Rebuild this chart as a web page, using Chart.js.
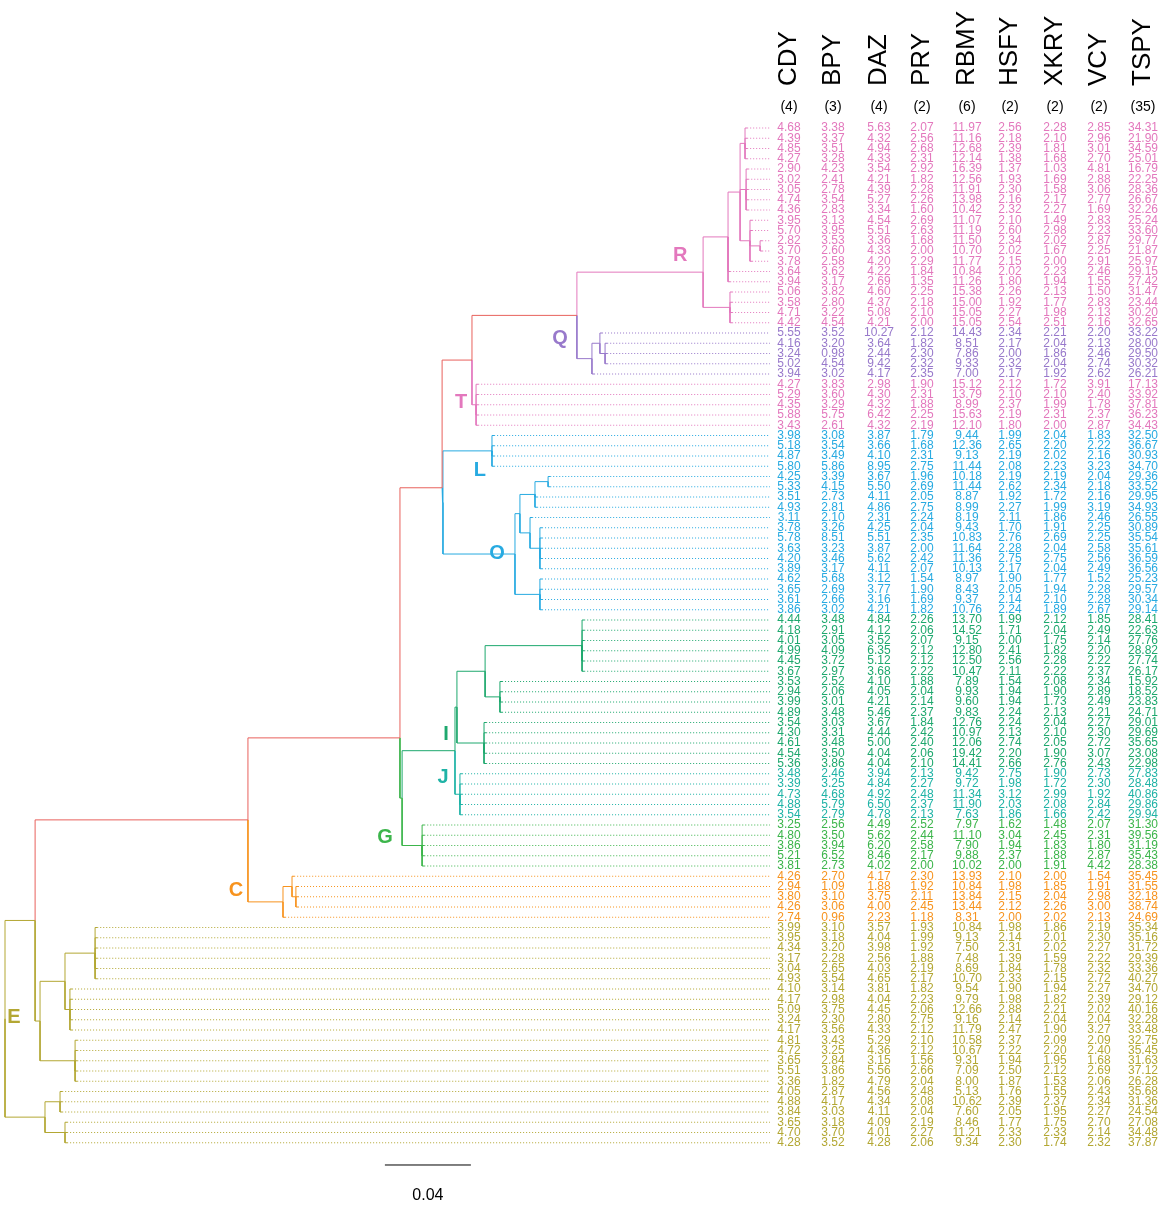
<!DOCTYPE html>
<html><head><meta charset="utf-8">
<script src="https://cdn.jsdelivr.net/npm/chart.js@4.4.0/dist/chart.umd.min.js"></script>
<style>html,body{margin:0;padding:0;background:#fff}#wrap{position:relative;width:1163px;height:1208px}</style>
</head><body><div id="wrap"><canvas id="c" width="1163" height="1208"></canvas></div>
<script>
// ---------------- DATA ----------------
const genes = ['CDY','BPY','DAZ','PRY','RBMY','HSFY','XKRY','VCY','TSPY'];
const copyNumbers = ['(4)','(3)','(4)','(2)','(6)','(2)','(2)','(2)','(35)'];
const groupNames = ['R','Q','T','L','O','I','J','G','C','E'];
const groupSizes = [20,5,5,4,14,15,5,5,5,22];

const CDY = [4.68,4.39,4.85,4.27,2.90,3.02,3.05,4.74,4.36,3.95,5.70,2.82,3.70,3.78,3.64,3.94,5.06,3.58,4.71,4.42,
 5.55,4.16,3.24,5.02,3.94, 4.27,5.29,4.35,5.88,3.43, 3.98,5.18,4.87,5.80,
 4.25,5.33,3.51,4.93,3.11,3.78,5.78,3.63,4.20,3.89,4.62,3.65,3.61,3.86,
 4.44,4.18,4.01,4.99,4.45,3.67,3.53,2.94,3.99,4.89,3.54,4.30,4.61,4.54,5.36,
 3.48,3.39,4.73,4.88,3.54, 3.25,4.80,3.86,5.21,3.81, 4.26,2.94,3.80,4.26,2.74,
 3.99,3.95,4.34,3.17,3.04,4.93,4.10,4.17,5.09,3.24,4.17,4.81,4.72,3.65,5.51,3.36,4.05,4.88,3.84,3.65,4.70,4.28];
const BPY = [3.38,3.37,3.51,3.28,4.23,2.41,2.78,3.54,2.83,3.13,3.95,3.53,2.60,2.58,3.62,3.17,3.82,2.80,3.22,4.54,
 3.52,3.20,0.98,4.54,3.02, 3.83,3.60,3.29,5.75,2.61, 3.08,3.54,3.49,5.86,
 3.39,4.15,2.73,2.81,2.10,3.26,8.51,3.23,3.46,3.17,5.68,2.69,2.66,3.02,
 3.48,2.91,3.05,4.09,3.72,2.97,2.52,2.06,3.01,3.48,3.03,3.31,3.48,3.50,3.86,
 2.46,3.25,4.68,5.79,2.79, 2.56,3.50,3.94,6.52,2.73, 2.70,1.09,3.10,3.06,0.96,
 3.10,3.18,3.20,2.28,2.65,3.54,3.14,2.98,3.75,2.30,3.56,3.43,3.25,2.84,3.86,1.82,2.87,4.17,3.03,3.18,3.70,3.52];
const DAZ = [5.63,4.32,4.94,4.33,3.54,4.21,4.39,5.27,3.34,4.54,5.51,3.36,4.33,4.20,4.22,2.69,4.60,4.37,5.08,4.21,
 10.27,3.64,2.44,9.42,4.17, 2.98,4.30,4.32,6.42,4.32, 3.87,3.66,4.10,8.95,
 3.67,5.50,4.11,4.86,2.31,4.25,5.51,3.87,5.62,4.11,3.12,3.77,3.16,4.21,
 4.84,4.12,3.52,6.35,5.12,3.68,4.10,4.05,4.21,5.46,3.67,4.44,5.00,4.04,4.04,
 3.94,4.84,4.92,6.50,4.78, 4.49,5.62,6.20,8.46,4.02, 4.17,1.88,3.75,4.00,2.23,
 3.57,4.04,3.98,2.56,4.03,4.65,3.81,4.04,4.45,2.80,4.33,5.29,4.36,3.15,5.56,4.79,4.56,4.34,4.11,4.09,4.01,4.28];
const PRY = [2.07,2.56,2.68,2.31,2.92,1.82,2.28,2.26,1.60,2.69,2.63,1.68,2.00,2.29,1.84,1.35,2.25,2.18,2.10,2.00,
 2.12,1.82,2.30,2.32,2.35, 1.90,2.31,1.88,2.25,2.19, 1.79,1.68,2.31,2.75,
 1.96,2.69,2.05,2.75,2.24,2.04,2.35,2.00,2.42,2.07,1.54,1.90,1.69,1.82,
 2.26,2.06,2.07,2.12,2.12,2.22,1.88,2.04,2.14,2.37,1.84,2.42,2.40,2.06,2.10,
 2.13,2.27,2.48,2.37,2.13, 2.52,2.44,2.58,2.17,2.00, 2.30,1.92,2.11,2.45,1.18,
 1.93,1.99,1.92,1.88,2.19,2.17,1.82,2.23,2.06,2.75,2.12,2.10,2.12,1.56,2.66,2.04,2.48,2.08,2.04,2.19,2.27,2.06];
const RBMY = [11.97,11.16,12.68,12.14,16.39,12.56,11.91,13.98,10.42,11.07,11.19,11.50,10.70,11.77,10.84,11.26,15.38,15.00,15.05,15.05,
 14.43,8.51,7.86,9.33,7.00, 15.12,13.79,8.99,15.63,12.10, 9.44,12.36,9.13,11.44,
 10.18,11.44,8.87,8.99,8.19,9.43,10.83,11.64,11.36,10.13,8.97,8.43,9.37,10.76,
 13.70,14.52,9.15,12.80,12.50,10.47,7.89,9.93,9.60,9.83,12.76,10.97,12.06,19.42,14.41,
 9.42,9.72,11.34,11.90,7.63, 7.97,11.10,7.90,9.88,10.02, 13.93,10.84,13.84,13.44,8.31,
 10.84,9.13,7.50,7.48,8.69,10.70,9.54,9.79,12.66,9.16,11.79,10.58,10.67,9.31,7.09,8.00,5.13,10.62,7.60,8.46,11.21,9.34];
const HSFY = [2.56,2.18,2.39,1.38,1.37,1.93,2.30,2.16,2.32,2.10,2.60,2.34,2.02,2.15,2.02,1.80,2.26,1.92,2.27,2.54,
 2.34,2.17,2.00,2.32,2.17, 2.12,2.10,2.37,2.19,1.80, 1.99,2.65,2.19,2.08,
 2.19,2.62,1.92,2.27,2.11,1.70,2.76,2.28,2.75,2.17,1.90,2.05,2.14,2.24,
 1.99,1.71,2.00,2.41,2.56,2.11,1.54,1.94,1.94,2.24,2.24,2.13,2.74,2.20,2.66,
 2.75,1.98,3.12,2.03,1.86, 1.62,3.04,1.94,2.37,2.00, 2.10,1.98,2.15,2.12,2.00,
 1.98,2.14,2.31,1.39,1.84,2.33,1.90,1.98,2.88,2.14,2.47,2.37,2.22,1.94,2.50,1.87,1.76,2.39,2.05,1.77,2.33,2.30];
const XKRY = [2.28,2.10,1.81,1.68,1.03,1.69,1.58,2.17,2.27,1.49,2.98,2.02,1.67,2.00,2.23,1.94,2.13,1.77,1.98,2.51,
 2.21,2.04,1.86,2.04,1.92, 1.72,2.10,1.99,2.31,2.00, 2.04,2.20,2.02,2.23,
 2.19,2.34,1.72,1.99,1.86,1.91,2.69,2.04,2.75,2.04,1.77,1.94,2.10,1.89,
 2.12,2.04,1.75,1.82,2.28,2.22,2.08,1.90,1.73,2.13,2.04,2.10,2.05,1.90,2.76,
 1.90,1.72,2.99,2.08,1.66, 1.48,2.45,1.83,1.88,1.91, 2.00,1.85,2.04,2.26,2.02,
 1.86,2.01,2.02,1.59,1.78,2.15,1.94,1.82,2.21,2.04,1.90,2.09,2.20,1.95,2.12,1.53,1.55,2.37,1.95,1.75,2.33,1.74];
const VCY = [2.85,2.96,3.01,2.70,4.81,2.88,3.06,2.77,1.69,2.83,2.23,2.87,2.25,2.91,2.46,1.55,1.50,2.83,2.13,2.16,
 2.20,2.13,2.46,2.74,2.62, 3.91,2.40,1.78,2.37,2.87, 1.83,2.22,2.16,3.23,
 2.04,2.18,2.16,3.19,2.46,2.25,2.25,2.58,2.56,2.49,1.52,2.28,2.28,2.67,
 1.85,2.49,2.14,2.20,2.22,2.37,2.34,2.89,2.49,2.21,2.27,2.30,2.72,3.07,2.43,
 2.73,2.30,1.92,2.84,2.42, 2.07,2.31,1.80,2.87,4.42, 1.54,1.91,2.98,3.00,2.13,
 2.19,2.30,2.27,2.22,2.32,2.72,2.27,2.39,2.02,2.04,3.27,2.09,2.40,1.68,2.69,2.06,2.43,2.34,2.27,2.70,2.14,2.32];
const TSPY = [34.31,21.90,34.59,25.01,16.79,22.25,28.36,26.67,32.26,25.24,33.60,29.77,21.87,25.97,29.15,27.42,31.47,23.44,30.20,32.65,
 33.22,28.00,29.50,30.32,26.21, 17.13,33.92,37.81,36.23,34.43, 32.50,36.67,30.93,34.70,
 29.36,33.52,29.95,34.93,26.55,30.89,35.54,35.61,36.59,36.56,25.23,29.57,30.34,29.14,
 28.41,22.63,27.76,28.82,27.74,26.17,15.92,18.52,23.83,24.71,29.01,29.69,35.65,23.08,22.98,
 27.83,28.48,40.86,29.86,29.94, 31.30,39.56,31.19,35.43,28.38, 35.45,31.55,32.18,38.74,24.69,
 35.34,35.16,31.72,29.39,33.36,40.27,34.70,29.12,40.16,32.28,33.48,32.75,35.45,31.63,37.12,26.28,35.68,31.36,24.54,27.08,34.48,37.87];
const columns = [CDY,BPY,DAZ,PRY,RBMY,HSFY,XKRY,VCY,TSPY];

// tree: internal nodes (distance from root); kids: numbers = leaf rows, strings = nodes
const nodeIds  = ['root','N35','A','B','U','V','W','R','R1','R1a','R1b','R1c','R1d','R1e','R2',
  'Q','Qa','Qb','T','LO','L','O','Oa','Oa1','Oa1a','Oa2','Oa2a','Ob',
  'G','IJ','I','Ia','Ia1','Ia2','Ib','J','Gs','C','Cs','Cs2','E1','E1a','E1c','E1d','E1b','E2','E2a','E2b'];
const nodeDist = [0,0.0140,0.1130,0.1837,0.2033,0.2172,0.2660,0.3247,0.3363,0.3419,0.3442,0.3447,0.3465,0.3512,0.3372,
  0.2730,0.2767,0.2791,0.2191,0.2037,0.2265,0.2372,0.2395,0.2465,0.2526,0.2442,0.2488,0.2488,
  0.1847,0.2093,0.2102,0.2233,0.2684,0.2302,0.2228,0.2116,0.1940,0.1293,0.1335,0.1353,0.0163,0.0279,0.0419,0.0302,0.0326,0.0186,0.0256,0.0279];
const nodeKids = [['N35','E2'],['A','E1'],['B','C'],['U','G'],['V','LO'],['W','T'],['R','Q'],['R1','R2'],
  ['R1a',14,15],['R1b','R1c','R1d'],[0,1,2,3],[4,5,6,7,8],[9,10,'R1e',13],[11,12],[16,17,18,19],
  ['Qa',24],[20,'Qb'],[21,22,23],[25,26,27,28,29],['L','O'],[30,31,32,33],['Oa','Ob'],['Oa1','Oa2'],
  ['Oa1a',36,37],[34,35],[38,'Oa2a'],[39,40,41,42,43],[44,45,46,47],
  ['IJ','Gs'],['I','J'],['Ia','Ib'],['Ia1','Ia2'],[48,49,50,51,52,53],[54,55,56,57],[58,59,60,61,62],[63,64,65,66,67],
  [68,69,70,71,72],['Cs',77],[73,'Cs2'],[74,75,76],['E1a','E1b'],['E1c','E1d'],[78,79,80,81,82,83],[84,85,86,87,88],
  [89,90,91,92,93],['E2a','E2b'],[94,95,96],[97,98,99]];
const nodeGroup = ['E','E','bb','bb','bb','bb','bb','R','R','R','R','R','R','R','R',
  'Q','Q','Q','T','O','L','O','O','O','O','O','O','O',
  'G','I','I','I','I','I','I','J','G','C','C','C','E','E','E','E','E','E','E','E'];
const nodeRowFixed = {B:59.5, U:35.1};
const tipLength = 0.001;
const tableStartDist = 0.3558;
const scaleBar = {start:0.1767, length:0.04, row:101.17, label:'0.04'};
const cladeLabels = [['R',0.3140,12.4],['Q',0.2581,20.5],['T',0.2121,26.8],['L',0.2209,33.4],['O',0.2288,41.5],
  ['I',0.2051,59.2],['J',0.2037,63.4],['G',0.1767,69.2],['C',0.1074,74.4],['E',0.0042,86.8]];

// ---------------- STYLE ----------------
const colors = {bb:'#e8615c',R:'#e378bd',Q:'#9879cb',T:'#e378bd',L:'#27aae1',O:'#27aae1',I:'#1ea86e',J:'#1fb3a6',G:'#3cb54b',C:'#f7931e',E:'#b3a733'};
const colX = [789,833,879,922,967,1010,1055,1099,1143];
const FONT = '"Liberation Sans", Arial, Helvetica, sans-serif';

// ---------------- BUILD ----------------
const rowGroup = [];
groupNames.forEach((g,i)=>{for(let k=0;k<groupSizes[i];k++) rowGroup.push(g);});
const nodes = {};
nodeIds.forEach((id,i)=>{nodes[id]={id,x:nodeDist[i],kids:nodeKids[i],g:nodeGroup[i],y:(id in nodeRowFixed)?nodeRowFixed[id]:null};});
const leafParent = {};
nodeIds.forEach(id=>nodes[id].kids.forEach(k=>{if(typeof k==='number') leafParent[k]=id;}));
const leafTip = rowGroup.map((g,i)=>nodes[leafParent[i]].x+tipLength);
function yOf(k){ if(typeof k==='number') return k; const n=nodes[k]; if(n.y===null){const ys=n.kids.map(yOf); n.y=(Math.min(...ys)+Math.max(...ys))/2;} return n.y; }
function xOf(k){ return typeof k==='number'? leafTip[k] : nodes[k].x; }
function colOf(k){ return typeof k==='number'? colors[rowGroup[k]] : colors[nodes[k].g]; }
const datasets=[];
nodeIds.forEach(id=>{const n=nodes[id]; const ny=yOf(id);
  n.kids.forEach(k=>{const ky=yOf(k);
    datasets.push({data:[{x:n.x,y:ny},{x:n.x,y:ky},{x:xOf(k),y:ky}],borderColor:colOf(k)});});});
rowGroup.forEach((g,i)=>{datasets.push({data:[{x:leafTip[i],y:i},{x:tableStartDist,y:i}],borderColor:colors[g],borderDash:[1,2]});});
datasets.push({data:[{x:scaleBar.start,y:scaleBar.row},{x:scaleBar.start+scaleBar.length,y:scaleBar.row}],borderColor:'#000'});
datasets.forEach(d=>{d.showLine=true;d.pointRadius=0;d.borderWidth=1;d.fill=false;d.tension=0;});

const textPlugin={id:'texts',afterDatasetsDraw(chart){
  const ctx=chart.ctx, xs=chart.scales.x, ys=chart.scales.y;
  ctx.save();
  genes.forEach((g,i)=>{ctx.save(); ctx.translate(colX[i],86); ctx.rotate(-Math.PI/2);
    ctx.font='26px '+FONT; ctx.fillStyle='#000'; ctx.textAlign='left'; ctx.textBaseline='middle'; ctx.fillText(g,0,0); ctx.restore();
    ctx.font='14px '+FONT; ctx.textAlign='center'; ctx.textBaseline='middle'; ctx.fillStyle='#000'; ctx.fillText(copyNumbers[i],colX[i],107);});
  ctx.font='12px '+FONT; ctx.textAlign='center'; ctx.textBaseline='middle';
  rowGroup.forEach((g,r)=>{ctx.fillStyle=colors[g]; const py=ys.getPixelForValue(r);
    columns.forEach((col,c)=>ctx.fillText(col[r].toFixed(2),colX[c],py));});
  ctx.font='bold 20px '+FONT; ctx.textAlign='center';
  cladeLabels.forEach(([t,x,y])=>{ctx.fillStyle=colors[t]; ctx.fillText(t,xs.getPixelForValue(x),ys.getPixelForValue(y));});
  ctx.font='16px '+FONT; ctx.fillStyle='#000';
  ctx.fillText(scaleBar.label,xs.getPixelForValue(scaleBar.start+scaleBar.length/2),1196);
  ctx.restore();
}};

new Chart(document.getElementById('c'),{type:'scatter',data:{datasets},
  options:{responsive:false,animation:false,events:[],layout:{padding:0},
    plugins:{legend:{display:false},tooltip:{enabled:false}},
    scales:{x:{type:'linear',min:-5/2150,max:1158/2150,display:false},
            y:{type:'linear',min:-128/10.25,max:-128/10.25+1208/10.25,reverse:true,display:false}}},
  plugins:[textPlugin]});
</script></body></html>
